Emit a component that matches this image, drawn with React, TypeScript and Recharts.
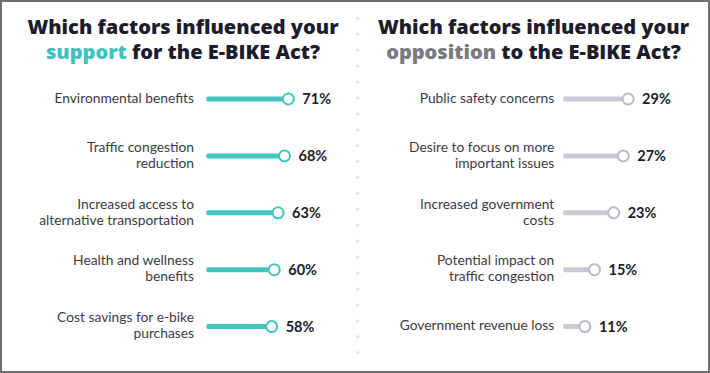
import { Bar, BarChart, XAxis, YAxis } from "recharts";

// Survey: factors behind support / opposition to the E-BIKE Act (percent of respondents)
const supportFactors = [
  "Environmental benefits",
  "Traffic congestion\nreduction",
  "Increased access to\nalternative transportation",
  "Health and wellness\nbenefits",
  "Cost savings for e-bike\npurchases",
];
const supportValues = [71, 68, 63, 60, 58];

const oppositionFactors = [
  "Public safety concerns",
  "Desire to focus on more\nimportant issues",
  "Increased government\ncosts",
  "Potential impact on\ntraffic congestion",
  "Government revenue loss",
];
const oppositionValues = [29, 27, 23, 15, 11];

const TEAL = "#45c5c0";
const GREY = "#c9cad5";
const INK = "#1d1c2b";
const LABEL = "#3b3b47";
const FONT = "Lato, 'Open Sans', sans-serif";

function FactorTick(props: any) {
  const { x, y, payload } = props;
  const lines = String(payload.value).split("\n");
  return (
    <text x={x} y={y} textAnchor="end" fill={LABEL} fontSize={13.8} fontFamily={FONT}>
      {lines.map((l, i) => (
        <tspan key={i} x={x} y={y + (i - (lines.length - 1) / 2) * 16 - 1} dy="0.35em">
          {l}
        </tspan>
      ))}
    </text>
  );
}

// thick track ending in a hollow knob, value printed after it
function knobBar(color: string, knob: string) {
  return (props: any) => {
    const { x, y, width, height, value } = props;
    const cy = y + height / 2;
    const end = x + width;
    return (
      <g>
        <rect x={x} y={cy - 2.5} width={width} height={5} rx={1.5} fill={color} />
        <circle cx={end} cy={cy} r={5.5} fill="#fff" stroke={knob} strokeWidth={2} />
        <text
          x={end + 14}
          y={cy}
          dy="0.36em"
          fill={INK}
          fontSize={14.5}
          fontWeight={700}
          fontFamily={FONT}
        >
          {`${value}%`}
        </text>
      </g>
    );
  };
}

function Panel({
  names,
  values,
  domain,
  axisWidth,
  gap,
  right,
  color,
  knob,
}: {
  names: string[];
  values: number[];
  domain: [number, number];
  axisWidth: number;
  gap: number;
  right: number;
  color: string;
  knob: string;
}) {
  const rows = names.map((name, i) => ({ name, value: values[i] }));
  return (
    <BarChart
      width={355}
      height={373}
      data={rows}
      layout="vertical"
      margin={{ top: 70.5, bottom: 18, left: 0, right }}
    >
      <XAxis type="number" domain={domain} hide />
      <YAxis
        type="category"
        dataKey="name"
        width={axisWidth}
        axisLine={false}
        tickLine={false}
        tickSize={0}
        tickMargin={gap}
        interval={0}
        tick={<FactorTick />}
      />
      <Bar dataKey="value" barSize={5} shape={knobBar(color, knob)} isAnimationActive={false} />
    </BarChart>
  );
}

const titleStyle = {
  position: "absolute" as const,
  width: 360,
  top: 14,
  textAlign: "center" as const,
  fontFamily: "'Open Sans', sans-serif",
  fontWeight: 800,
  fontSize: 20,
  lineHeight: "25px",
  color: INK,
  margin: 0,
};

export default function App() {
  const dots = Array.from({ length: 22 }, (_, i) => 18.3 + i * 15.92);
  return (
    <div
      style={{
        position: "absolute",
        left: 0,
        top: 0,
        width: 710,
        height: 373,
        background: "#fff",
        overflow: "hidden",
      }}
    >
      <div
        style={{
          position: "absolute",
          inset: 0,
          border: "2px solid #707070",
          boxSizing: "border-box",
        }}
      />
      <svg style={{ position: "absolute", left: 0, top: 0 }} width={710} height={373}>
        {dots.map((cy, i) => (
          <circle key={i} cx={357.7} cy={cy} r={1.6} fill="#e3e3e6" />
        ))}
      </svg>
      <div style={{ ...titleStyle, left: 183 - 180 }}>
        Which factors influenced your
        <br />
        <span style={{ color: "#3fc2bd" }}>support</span> for the E-BIKE Act?
      </div>
      <div style={{ ...titleStyle, left: 533.5 - 180 }}>
        Which factors influenced your
        <br />
        <span style={{ color: "#7a7a84" }}>opposition</span> to the E-BIKE Act?
      </div>
      <div style={{ position: "absolute", left: 0, top: 0 }}>
        <Panel
          names={supportFactors}
          values={supportValues}
          domain={[7, 107]}
          axisWidth={206.4}
          gap={12.4}
          right={20.6}
          color={TEAL}
          knob={TEAL}
        />
      </div>
      <div style={{ position: "absolute", left: 355, top: 0 }}>
        <Panel
          names={oppositionFactors}
          values={oppositionValues}
          domain={[2, 52]}
          axisWidth={208.3}
          gap={9}
          right={26.7}
          color={GREY}
          knob="#b9bbc6"
        />
      </div>
    </div>
  );
}
